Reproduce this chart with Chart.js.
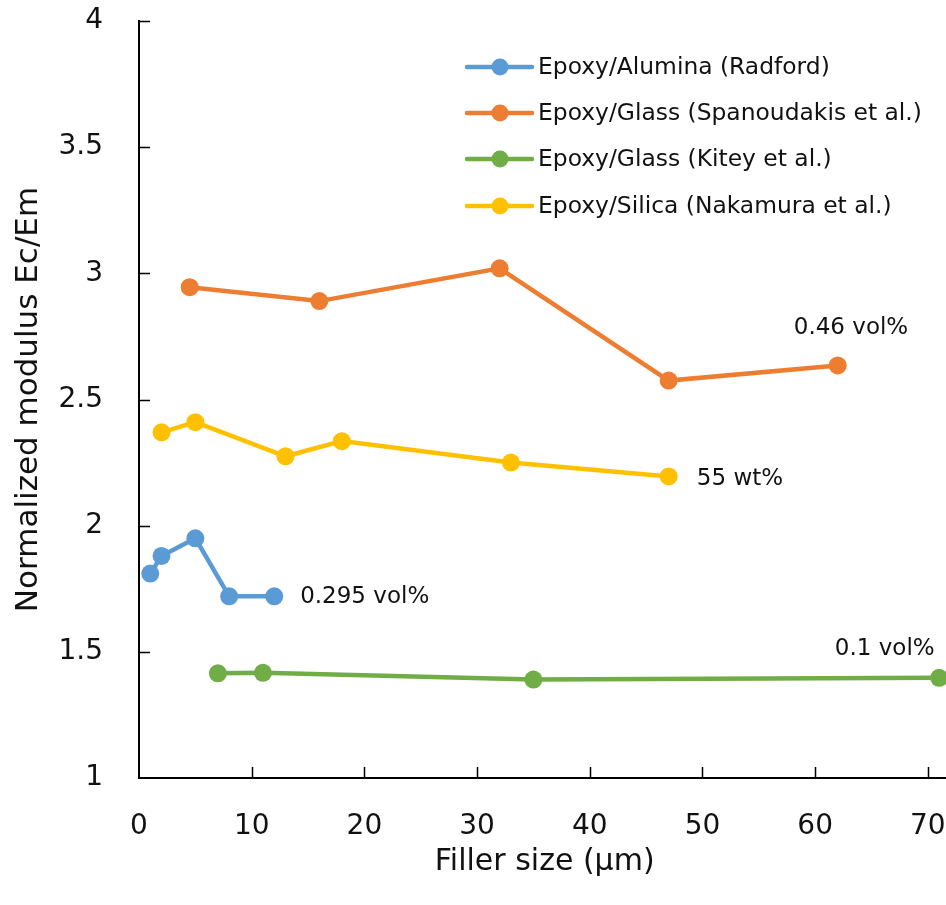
<!DOCTYPE html>
<html>
<head>
<meta charset="utf-8">
<script src="https://cdn.jsdelivr.net/npm/chart.js@4/dist/chart.umd.min.js"></script>
<style>
  html, body { margin: 0; padding: 0; background: #fff; overflow: hidden; }
  #wrap { position: relative; width: 960px; height: 905px; }
</style>
</head>
<body>
<div id="wrap"><canvas id="c"></canvas></div>
<script>
// ---- data ----
const seriesNames = [
  'Epoxy/Alumina (Radford)',
  'Epoxy/Glass (Spanoudakis et al.)',
  'Epoxy/Glass (Kitey et al.)',
  'Epoxy/Silica (Nakamura et al.)'
];
const aluminaX = [1, 2, 5, 8, 12];
const aluminaY = [1.81, 1.88, 1.95, 1.72, 1.72];
const spanX = [4.5, 16, 32, 47, 62];
const spanY = [2.945, 2.89, 3.02, 2.575, 2.635];
const kiteyX = [7, 11, 35, 71];
const kiteyY = [1.415, 1.417, 1.39, 1.397];
const nakX = [2, 5, 13, 18, 33, 47];
const nakY = [2.37, 2.41, 2.275, 2.335, 2.25, 2.195];
const xTicks = [0, 10, 20, 30, 40, 50, 60, 70];
const xTickLabels = ['0', '10', '20', '30', '40', '50', '60', '70'];
const yTicks = [1, 1.5, 2, 2.5, 3, 3.5, 4];
const yTickLabels = ['1', '1.5', '2', '2.5', '3', '3.5', '4'];
const annoTexts = ['0.46 vol%', '55 wt%', '0.295 vol%', '0.1 vol%'];
const annoX = [58.1, 49.5, 14.3, 70.6];
const annoY = [2.785, 2.184, 1.717, 1.51];
const annoAlign = ['left', 'left', 'left', 'right'];

const colors = ['#5B9BD5', '#ED7D31', '#70AD47', '#FFC000'];
const FONT = '"DejaVu Sans", Verdana, sans-serif';

function pts(xs, ys) { return xs.map((x, i) => ({ x: x, y: ys[i] })); }

const datasets = [
  pts(aluminaX, aluminaY), pts(spanX, spanY), pts(kiteyX, kiteyY), pts(nakX, nakY)
].map((d, i) => ({
  label: seriesNames[i],
  data: d,
  borderColor: colors[i],
  backgroundColor: colors[i],
  borderWidth: 4.5,
  pointRadius: 9,
  pointHoverRadius: 9,
  pointBorderWidth: 0,
  tension: 0,
  showLine: true,
  clip: false
}));

const tickPlugin = {
  id: 'innerTicks',
  afterDraw(chart) {
    const ctx = chart.ctx;
    const xs = chart.scales.x, ys = chart.scales.y;
    const area = chart.chartArea;
    ctx.save();
    ctx.strokeStyle = '#000';
    ctx.lineWidth = 1.5;
    ctx.beginPath();
    xs.ticks.forEach(t => {
      if (t.value === 0) return;
      const px = Math.round(xs.getPixelForValue(t.value)) + 0.5;
      ctx.moveTo(px, area.bottom);
      ctx.lineTo(px, area.bottom - 11);
    });
    ys.ticks.forEach(t => {
      if (t.value === 1) return;
      const py = Math.round(ys.getPixelForValue(t.value)) + 0.5;
      ctx.moveTo(area.left, py);
      ctx.lineTo(area.left + 11, py);
    });
    ctx.stroke();
    ctx.restore();
  }
};

const legendPlugin = {
  id: 'customLegend',
  afterDraw(chart) {
    const ctx = chart.ctx;
    const x0 = 467, x1 = 532, xm = 500, tx = 538;
    const rows = [67, 113, 159, 206];
    ctx.save();
    chart.data.datasets.forEach((ds, i) => {
      const y = rows[i];
      ctx.strokeStyle = ds.borderColor;
      ctx.lineWidth = 4.5;
      ctx.lineCap = 'round';
      ctx.beginPath(); ctx.moveTo(x0, y); ctx.lineTo(x1, y); ctx.stroke();
      ctx.fillStyle = ds.backgroundColor;
      ctx.beginPath(); ctx.arc(xm, y, 8.5, 0, Math.PI * 2); ctx.fill();
      ctx.fillStyle = '#111';
      ctx.font = '23.4px ' + FONT;
      ctx.textAlign = 'left';
      ctx.textBaseline = 'middle';
      ctx.fillText(ds.label, tx, y + 1);
    });
    ctx.restore();
  }
};

const annoPlugin = {
  id: 'annotations',
  afterDraw(chart) {
    const ctx = chart.ctx;
    const xs = chart.scales.x, ys = chart.scales.y;
    ctx.save();
    ctx.fillStyle = '#111';
    ctx.font = '23px ' + FONT;
    ctx.textBaseline = 'middle';
    annoTexts.forEach((t, i) => {
      ctx.textAlign = annoAlign[i];
      ctx.fillText(t, xs.getPixelForValue(annoX[i]), ys.getPixelForValue(annoY[i]));
    });
    ctx.restore();
  }
};

new Chart(document.getElementById('c'), {
  type: 'scatter',
  data: { datasets: datasets },
  plugins: [tickPlugin, legendPlugin, annoPlugin],
  options: {
    responsive: true,
    maintainAspectRatio: false,
    animation: false,
    layout: { padding: { top: 21, right: 9.6, left: 0, bottom: 0 } },
    plugins: { legend: { display: false }, tooltip: { enabled: false } },
    scales: {
      x: {
        type: 'linear',
        min: 0, max: 72,
        afterBuildTicks(s) { s.ticks = xTicks.map(v => ({ value: v })); },
        afterFit(s) { s.height = 127; s.paddingLeft = 0; s.paddingRight = 0; },
        border: { display: true, color: '#000', width: 2 },
        grid: { display: true, drawOnChartArea: false, drawTicks: false },
        ticks: {
          color: '#111', font: { family: FONT, size: 28 }, padding: 32, maxRotation: 0,
          callback: (v) => xTickLabels[xTicks.indexOf(v)]
        },
        title: { display: true, text: 'Filler size (µm)', color: '#111', font: { family: FONT, size: 30 }, padding: { top: 8, bottom: 25 } }
      },
      y: {
        type: 'linear',
        min: 1, max: 4,
        afterBuildTicks(s) { s.ticks = yTicks.map(v => ({ value: v })); },
        afterFit(s) { s.width = 139; s.paddingTop = 0; s.paddingBottom = 0; },
        border: { display: true, color: '#000', width: 2 },
        grid: { display: true, drawOnChartArea: false, drawTicks: false },
        ticks: {
          color: '#111', font: { family: FONT, size: 28 }, padding: 36,
          callback: (v) => yTickLabels[yTicks.indexOf(v)]
        },
        title: { display: true, text: 'Normalized modulus Ec/Em', color: '#111', font: { family: FONT, size: 31 }, padding: { top: 10, bottom: 8 } }
      }
    }
  }
});
</script>
</body>
</html>
